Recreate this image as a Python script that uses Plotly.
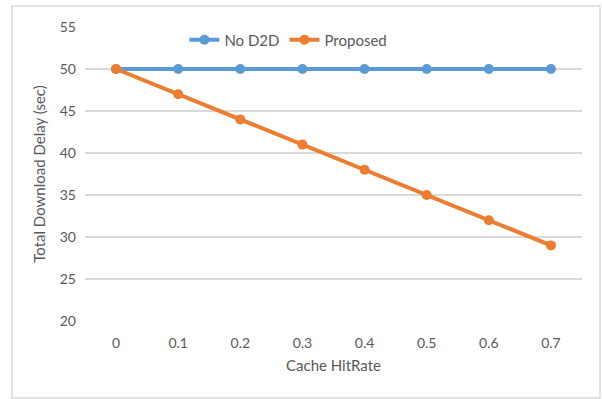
import plotly.graph_objects as go

categories = ["0", "0.1", "0.2", "0.3", "0.4", "0.5", "0.6", "0.7"]
no_d2d = [50, 50, 50, 50, 50, 50, 50, 50]
proposed = [50, 47, 44, 41, 38, 35, 32, 29]
y_ticks = [20, 25, 30, 35, 40, 45, 50, 55]

FONT = "Lato, Liberation Sans, sans-serif"
TXT = "#595959"

fig = go.Figure()
fig.add_trace(go.Scatter(x=categories, y=no_d2d, name="No D2D", mode="lines+markers",
                         line=dict(color="#5B9BD5", width=4),
                         marker=dict(size=10, color="#5B9BD5")))
fig.add_trace(go.Scatter(x=categories, y=proposed, name="Proposed", mode="lines+markers",
                         line=dict(color="#ED7D31", width=4),
                         marker=dict(size=10, color="#ED7D31")))

fig.update_layout(
    width=602, height=399,
    margin=dict(l=85, r=20, t=27, b=78),
    paper_bgcolor="white", plot_bgcolor="white",
    font=dict(family=FONT, size=14, color=TXT),
    legend=dict(orientation="h", x=0.2, y=0.956, xanchor="left", yanchor="middle",
                bgcolor="rgba(0,0,0,0)", font=dict(size=15, color=TXT),
                itemwidth=30, tracegroupgap=0),
    xaxis=dict(type="category", range=[-0.5, 7.5], showgrid=False, showline=False,
               ticks="", tickfont=dict(size=14, color=TXT), ticklabelstandoff=12,
               title=dict(text="Cache HitRate", font=dict(size=15, color=TXT), standoff=10)),
    yaxis=dict(range=[20, 55], tickvals=y_ticks, showgrid=True, gridcolor="#D9D9D9",
               gridwidth=1.5, zeroline=False, showline=False, ticks="",
               tickfont=dict(size=14, color=TXT), ticklabelstandoff=8,
               title=dict(text="Total Download Delay (sec)", font=dict(size=15, color=TXT), standoff=10)),
    shapes=[dict(type="rect", xref="paper", yref="paper",
                 x0=(12 - 85) / 497, x1=(600 - 85) / 497,
                 y0=(321 - 398) / 294, y1=(321 - 6) / 294,
                 line=dict(color="#D9D9D9", width=1.5), layer="below")],
)

fig.write_html("out.html", config={"displayModeBar": False},
               post_script="document.body.style.margin='0';")
